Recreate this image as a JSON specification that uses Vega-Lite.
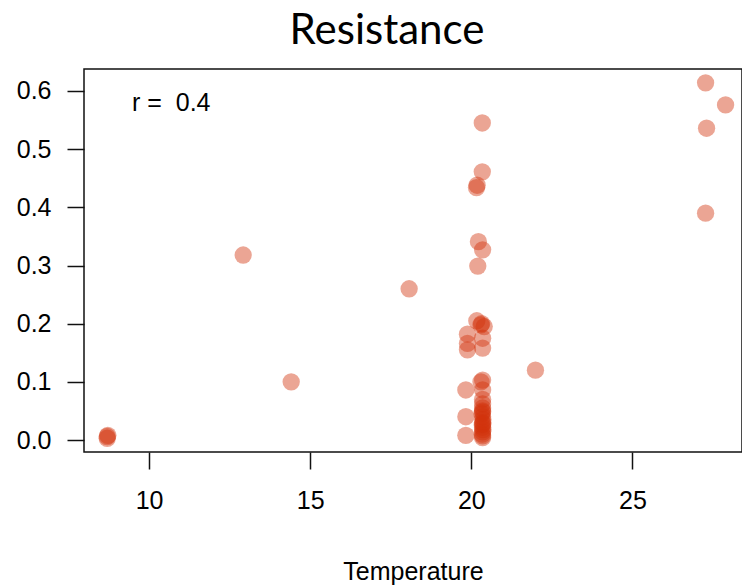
{
  "$schema": "https://vega.github.io/schema/vega-lite/v6.json",
  "autosize": {"type": "none"},
  "padding": {"left": 84, "top": 69, "right": 0, "bottom": 134},
  "width": 658,
  "height": 383,
  "background": "white",
  "title": {"text": "Resistance", "font": "Lato", "fontSize": 42, "fontWeight": "normal", "color": "black", "anchor": "middle", "dx": -26, "baseline": "alphabetic", "offset": -17},
  "config": {
    "view": {"stroke": "#111", "strokeWidth": 1.5},
    "axis": {"domain": false, "grid": false, "tickColor": "#111", "tickWidth": 1.5, "tickSize": 17, "labelFont": "Liberation Sans", "labelFontSize": 25, "labelColor": "black", "titleFont": "Liberation Sans", "titleFontSize": 25, "titleFontWeight": "normal", "titleColor": "black"}
  },
  "layer": [
    {
      "data": {"values": [
        {"Temperature": 8.7, "Resistance": 0.003},
        {"Temperature": 8.7, "Resistance": 0.006},
        {"Temperature": 8.72, "Resistance": 0.008},
        {"Temperature": 12.92, "Resistance": 0.318},
        {"Temperature": 14.41, "Resistance": 0.1},
        {"Temperature": 18.07, "Resistance": 0.26},
        {"Temperature": 21.99, "Resistance": 0.12},
        {"Temperature": 27.27, "Resistance": 0.614},
        {"Temperature": 27.89, "Resistance": 0.576},
        {"Temperature": 27.3, "Resistance": 0.536},
        {"Temperature": 27.27, "Resistance": 0.39},
        {"Temperature": 20.34, "Resistance": 0.545},
        {"Temperature": 20.34, "Resistance": 0.461},
        {"Temperature": 20.18, "Resistance": 0.438},
        {"Temperature": 20.16, "Resistance": 0.434},
        {"Temperature": 20.22, "Resistance": 0.341},
        {"Temperature": 20.35, "Resistance": 0.327},
        {"Temperature": 20.2, "Resistance": 0.299},
        {"Temperature": 20.17, "Resistance": 0.205},
        {"Temperature": 20.3, "Resistance": 0.198},
        {"Temperature": 20.32, "Resistance": 0.2},
        {"Temperature": 20.4, "Resistance": 0.195},
        {"Temperature": 19.88, "Resistance": 0.182},
        {"Temperature": 19.88, "Resistance": 0.166},
        {"Temperature": 20.35, "Resistance": 0.175},
        {"Temperature": 20.35, "Resistance": 0.158},
        {"Temperature": 19.88, "Resistance": 0.155},
        {"Temperature": 20.35, "Resistance": 0.103},
        {"Temperature": 20.3, "Resistance": 0.1},
        {"Temperature": 19.83, "Resistance": 0.086},
        {"Temperature": 20.35, "Resistance": 0.086},
        {"Temperature": 20.35, "Resistance": 0.07},
        {"Temperature": 19.83, "Resistance": 0.04},
        {"Temperature": 19.83, "Resistance": 0.008},
        {"Temperature": 20.35, "Resistance": 0.062},
        {"Temperature": 20.35, "Resistance": 0.055},
        {"Temperature": 20.35, "Resistance": 0.05},
        {"Temperature": 20.33, "Resistance": 0.045},
        {"Temperature": 20.35, "Resistance": 0.04},
        {"Temperature": 20.36, "Resistance": 0.035},
        {"Temperature": 20.35, "Resistance": 0.03},
        {"Temperature": 20.34, "Resistance": 0.026},
        {"Temperature": 20.35, "Resistance": 0.022},
        {"Temperature": 20.36, "Resistance": 0.018},
        {"Temperature": 20.35, "Resistance": 0.014},
        {"Temperature": 20.34, "Resistance": 0.01},
        {"Temperature": 20.35, "Resistance": 0.007},
        {"Temperature": 20.35, "Resistance": 0.004},
        {"Temperature": 20.36, "Resistance": 0.028},
        {"Temperature": 20.35, "Resistance": 0.048}
      ]},
      "mark": {"type": "circle", "size": 300, "color": "#d2330c", "opacity": 0.44},
      "encoding": {
        "x": {"field": "Temperature", "type": "quantitative", "scale": {"domain": [7.98, 28.4], "nice": false, "zero": false}, "axis": {"values": [10, 15, 20, 25], "labelPadding": 19, "titlePadding": 46, "title": "Temperature"}},
        "y": {"field": "Resistance", "type": "quantitative", "scale": {"domain": [-0.0206, 0.6378], "nice": false, "zero": false}, "axis": {"values": [0, 0.1, 0.2, 0.3, 0.4, 0.5, 0.6], "format": ".1f", "labelPadding": 16, "title": null}}
      }
    },
    {
      "data": {"values": [{"tx": 9.47, "ty": 0.579, "label": "r =\u00a0 0.4"}]},
      "mark": {"type": "text", "align": "left", "baseline": "middle", "font": "Liberation Sans", "fontSize": 25, "color": "black"},
      "encoding": {
        "x": {"field": "tx", "type": "quantitative"},
        "y": {"field": "ty", "type": "quantitative"},
        "text": {"field": "label"}
      }
    }
  ]
}
